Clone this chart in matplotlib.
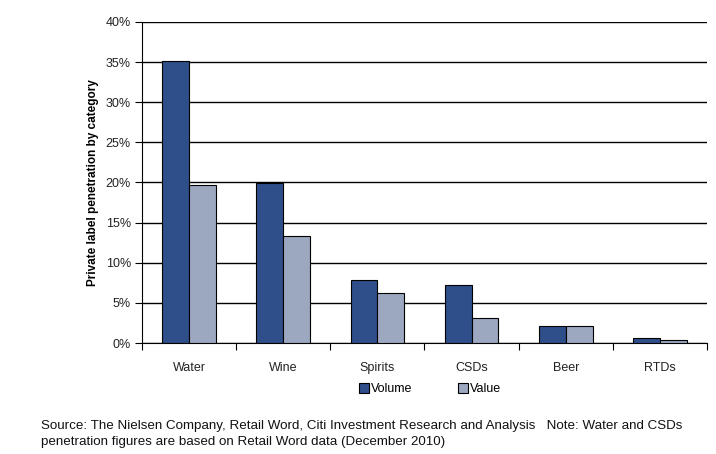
import matplotlib
matplotlib.use("Agg")
import matplotlib.pyplot as plt
import numpy as np

plt.rcParams['font.family'] = ['Liberation Sans', 'DejaVu Sans']

categories = ["Water", "Wine", "Spirits", "CSDs", "Beer", "RTDs"]
volume = [35.1, 19.9, 7.85, 7.2, 2.1, 0.65]
value = [19.7, 13.3, 6.2, 3.1, 2.1, 0.35]
yticks = [0, 5, 10, 15, 20, 25, 30, 35, 40]
ytick_labels = ["0%", "5%", "10%", "15%", "20%", "25%", "30%", "35%", "40%"]

vol_color = "#2F4F8A"
val_color = "#9BA8C0"

fig = plt.figure(figsize=(7.16, 4.54), dpi=100)
ax = fig.add_axes([142/716, 1 - 343/454, (707-142)/716, (343-22)/454])

x = np.arange(len(categories))
w = 0.285
b1 = ax.bar(x - w/2, volume, w, color=vol_color, edgecolor="black", linewidth=0.8, label="Volume", zorder=3)
b2 = ax.bar(x + w/2, value, w, color=val_color, edgecolor="black", linewidth=0.8, label="Value", zorder=3)

ax.set_xlim(-0.5, len(categories) - 0.5)
ax.set_ylim(0, 40)
ax.set_yticks(yticks)
ax.set_yticklabels(ytick_labels, fontsize=9, color="#222222")
ax.set_xticks(x)
ax.set_xticklabels(categories, fontsize=9, color="#222222")
ax.set_xticks(np.arange(len(categories) + 1) - 0.5, minor=True)
ax.tick_params(axis='x', which='major', length=0, pad=14)
ax.tick_params(axis='x', which='minor', length=5, width=0.8, direction='out')
ax.tick_params(axis='y', length=5, width=0.8, direction='out', pad=3)

ax.yaxis.grid(True, color="black", linewidth=1.0, zorder=0)
ax.set_axisbelow(True)
for s in ["top", "right"]:
    ax.spines[s].set_visible(False)
ax.spines["left"].set_linewidth(0.8)
ax.spines["bottom"].set_linewidth(0.8)

ax.set_ylabel("Private label penetration by category", fontsize=8.5, fontweight="bold", labelpad=5)

leg = fig.legend(handles=[b1, b2], labels=["Volume", "Value"], loc="center",
                 bbox_to_anchor=(430/716, 1 - 389/454), ncol=2, frameon=False,
                 fontsize=9, handlelength=0.8, handleheight=0.8, columnspacing=3.6,
                 handletextpad=0.2)

fig.text(41/716, 1 - 426/454,
         "Source: The Nielsen Company, Retail Word, Citi Investment Research and Analysis   Note: Water and CSDs",
         fontsize=9.6, va="center", ha="left", color="#111111")
fig.text(41/716, 1 - 442/454,
         "penetration figures are based on Retail Word data (December 2010)",
         fontsize=9.6, va="center", ha="left", color="#111111")

fig.savefig("out.png", dpi=100)
